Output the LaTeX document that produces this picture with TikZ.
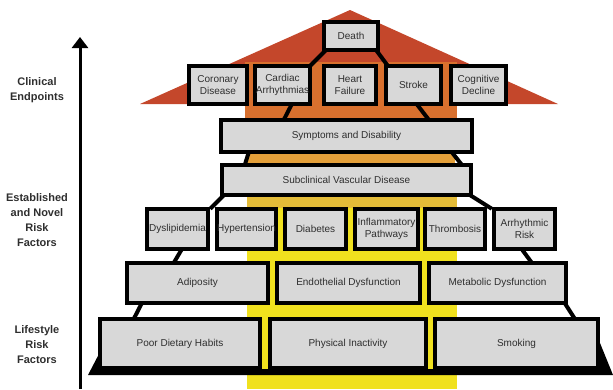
\documentclass[tikz,border=0pt]{standalone}
\usepackage{fontspec}
\setmainfont{Liberation Sans}
\usetikzlibrary{arrows.meta,calc}
\definecolor{roofred}{HTML}{C4472B}
\definecolor{bandorange}{HTML}{D8702E}
\definecolor{bandamber}{HTML}{E4A03A}
\definecolor{bandgold}{HTML}{E4BC38}
\definecolor{bandyellow}{HTML}{F0E11E}
\definecolor{boxgray}{HTML}{D8D8D8}
\definecolor{txtgray}{HTML}{2E2E2E}
\newcommand\pbox[6]{\node[bx,minimum width={(#4-#2-3.6)*1pt},minimum height={(#5-#3-3.6)*1pt}] (#1) at ({(#2+#4)/2},{(#3+#5)/2}) {#6};}
\begin{document}
\begin{tikzpicture}[x=1pt,y=-1pt,
  bx/.style={draw=black,line width=3.6pt,fill=boxgray,inner sep=0pt,outer sep=0pt,
    font=\fontsize{10}{11.5}\selectfont,text=txtgray,align=center},
  conn/.style={line width=4pt,black},
  lbl/.style={font=\fontsize{11}{15}\selectfont\bfseries,text=txtgray,align=center,inner sep=0pt}]
\useasboundingbox (0,0) rectangle (613,389);
% roof and bands
\fill[roofred] (140,104) -- (350,10) -- (558,104) -- cycle;
\fill[bandorange] (245,62) rectangle (457,118);
\fill[bandamber] (247,150) rectangle (455,165);
\fill[bandyellow] (247,195) rectangle (457,389);
\fill[bandgold] (247,195) rectangle (457,208);
% base
\fill[black] (88,375) -- (100,352) -- (100,369) -- (600,369) -- (600,343) -- (613,375) -- cycle;
% axis
\coordinate (axb) at (80,389);
\coordinate (axt) at (80,37);
\draw[line width=3pt,-{Triangle[width=16pt,length=11pt]}] (axb) -- (axt);
\node[lbl] (l1) at (37,90) {Clinical\\Endpoints};
\node[lbl] (l2) at (37,220) {Established\\and Novel\\Risk\\Factors};
\node[lbl] (l3) at (37,345) {Lifestyle\\Risk\\Factors};
% boxes
\pbox{death}{322}{20}{380}{52}{Death}
\pbox{cor}{187}{64}{249}{106}{Coronary\\Disease}
\pbox{car}{253}{64}{312}{106}{Cardiac\\Arrhythmias}
\pbox{hf}{322}{64}{378}{106}{Heart\\Failure}
\pbox{str}{384}{64}{443}{106}{Stroke}
\pbox{cog}{449}{64}{508}{106}{Cognitive\\Decline}
\pbox{sym}{219}{118}{474}{154}{Symptoms and Disability}
\pbox{sub}{220}{163}{473}{197}{Subclinical Vascular Disease}
\pbox{dys}{145}{207}{210}{251}{Dyslipidemia}
\pbox{hyp}{215}{207}{278}{251}{Hypertension}
\pbox{dia}{283}{207}{348}{251}{Diabetes}
\pbox{inf}{353}{207}{420}{251}{Inflammatory\\Pathways}
\pbox{thr}{423}{207}{487}{251}{Thrombosis}
\pbox{arr}{492}{207}{557}{251}{Arrhythmic\\Risk}
\pbox{adi}{125}{261}{270}{305}{Adiposity}
\pbox{end}{275}{261}{422}{305}{Endothelial Dysfunction}
\pbox{met}{427}{261}{568}{305}{Metabolic Dysfunction}
\pbox{poor}{98}{317}{262}{370}{Poor Dietary Habits}
\pbox{phy}{268}{317}{428}{370}{Physical Inactivity}
\pbox{smo}{433}{317}{600}{370}{Smoking}
% connectors
\draw[conn] ($(death.south west)+(2,0)$) -- ($(car.north east)+(0,0)$);
\draw[conn] ($(death.south east)+(-2,0)$) -- ($(str.north west)+(2,0)$);
\draw[conn] ($(car.south west)+(37,0)$) -- ($(sym.north west)+(63,0)$);
\draw[conn] ($(str.south west)+(31,0)$) -- ($(sym.north west)+(208,0)$);
\draw[conn] ($(sym.south west)+(28,0)$) -- ($(sub.north west)+(23,0)$);
\draw[conn] ($(sym.south west)+(231,0)$) -- ($(sub.north west)+(240,0)$);
\draw[conn] ($(sub.south west)+(2,0)$) -- ($(dys.north east)+(2,0)$);
\draw[conn] ($(sub.south east)+(-1,0)$) -- ($(arr.north west)+(-2,0)$);
\draw[conn] ($(dys.south west)+(35,0)$) -- ($(adi.north west)+(47,0)$);
\draw[conn] ($(arr.south west)+(28,0)$) -- ($(met.north west)+(103,0)$);
\draw[conn] ($(adi.south west)+(15,0)$) -- ($(poor.north west)+(34,0)$);
\draw[conn] ($(met.south west)+(136,0)$) -- ($(smo.north west)+(140,0)$);
\end{tikzpicture}
\end{document}
